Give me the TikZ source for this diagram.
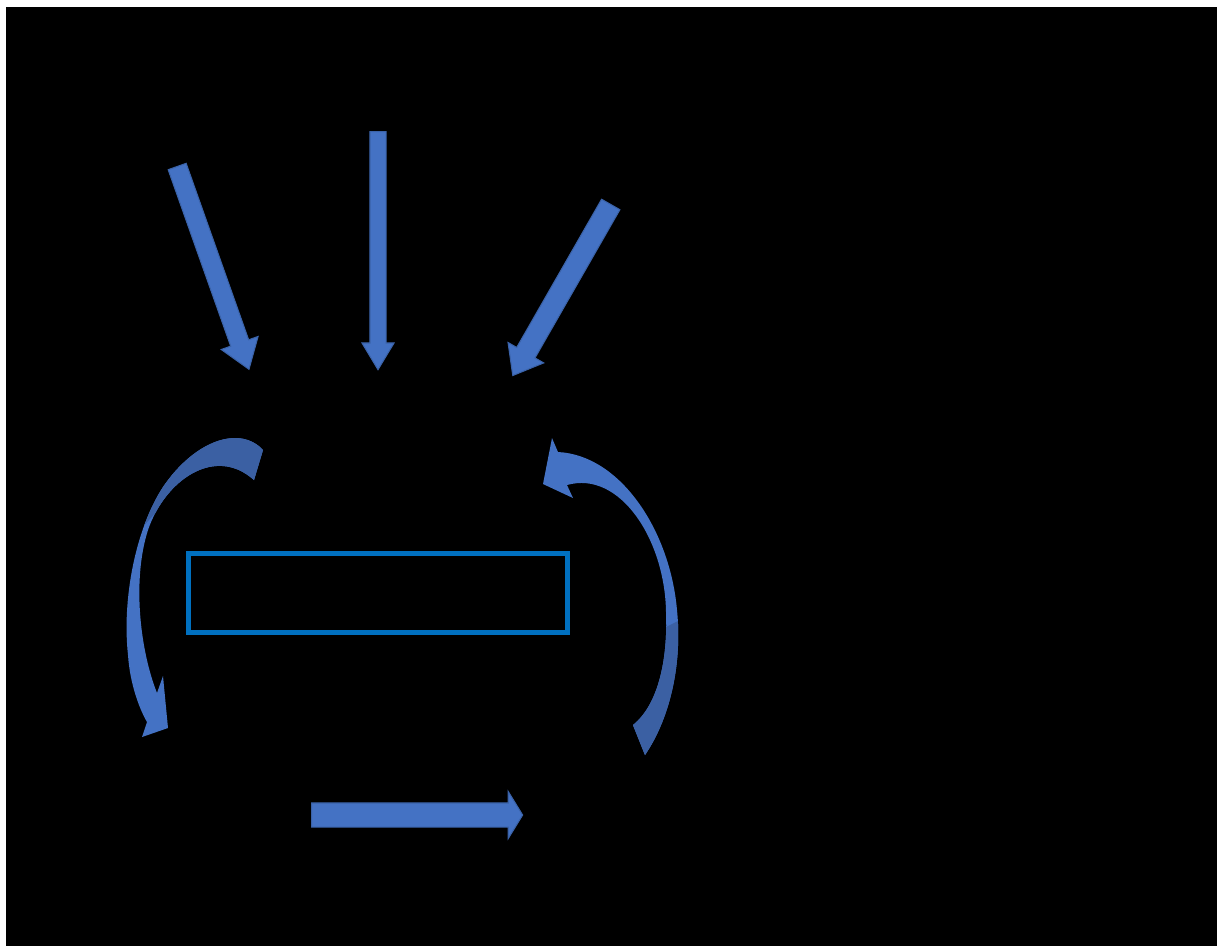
\documentclass[tikz,border=0pt]{standalone}
\usepackage{xcolor}
\usepackage{tikz}
\usetikzlibrary{arrows.meta,shapes.arrows}
\definecolor{ArrowBlue}{HTML}{4472C4}
\definecolor{ArrowEdge}{HTML}{3A62A8}
\definecolor{ArrowShade}{HTML}{3B60A3}
\definecolor{FrameBlue}{HTML}{0070C0}
\newcommand{\LoopLeftPath}{(263,450) .. controls (240,425) and (195,440) .. (163,487) .. controls (135,530) and (122,600) .. (128,655) .. controls (130,685) and (140,710) .. (147,722) -- (142,737) -- (168,728) -- (163,676) -- (157,693) .. controls (140,650) and (132,580) .. (148,530) .. controls (165,480) and (215,445) .. (254,480) -- cycle}
\newcommand{\LoopRightPath}{(645,755) .. controls (672,715) and (682,660) .. (677,610) .. controls (670,530) and (620,455) .. (558,452) -- (552,438) -- (543,484) -- (573,498) -- (567,485) .. controls (620,470) and (665,540) .. (666,612) .. controls (668,660) and (658,705) .. (633,725) -- cycle}

\begin{document}
\begin{tikzpicture}[x=0.01cm,y=-0.01cm]
\tikzstyle{blockarrow}=[single arrow,draw=ArrowEdge,line width=0.3pt,fill=ArrowBlue,anchor=tail]
\useasboundingbox (0,0) rectangle (1218,947);
\fill[black] (6,7) rectangle (1217,946);
\node[draw=FrameBlue,line width=0.05cm,minimum width=3.785cm,minimum height=0.785cm,inner sep=0pt] (frame) at (378,593) {};
\node[blockarrow,rotate=-70.5,minimum height=2.15cm,inner sep=0.09cm,single arrow head extend=0.1cm,single arrow tip angle=70] (inleft) at (177,166) {};
\node[blockarrow,rotate=-90,minimum height=2.38cm,inner sep=0.075cm,single arrow head extend=0.08cm,single arrow tip angle=62] (inmid) at (378,131) {};
\node[blockarrow,rotate=-119.8,minimum height=1.97cm,inner sep=0.1cm,single arrow head extend=0.1cm,single arrow tip angle=76] (inright) at (611,204) {};
\node[blockarrow,minimum height=2.11cm,inner sep=0.115cm,single arrow head extend=0.115cm,single arrow tip angle=117] (flow) at (311,815) {};
\fill[ArrowBlue] \LoopLeftPath;
\begin{scope}
\clip \LoopLeftPath;
\fill[ArrowShade] (120,420) -- (280,420) -- (280,500) -- (185,480) -- (140,530) -- (110,530) -- cycle;
\end{scope}
\fill[ArrowBlue] \LoopRightPath;
\begin{scope}
\clip \LoopRightPath;
\fill[ArrowShade] (600,660) -- (700,610) -- (700,780) -- (600,780) -- cycle;
\end{scope}
\end{tikzpicture}
\end{document}
